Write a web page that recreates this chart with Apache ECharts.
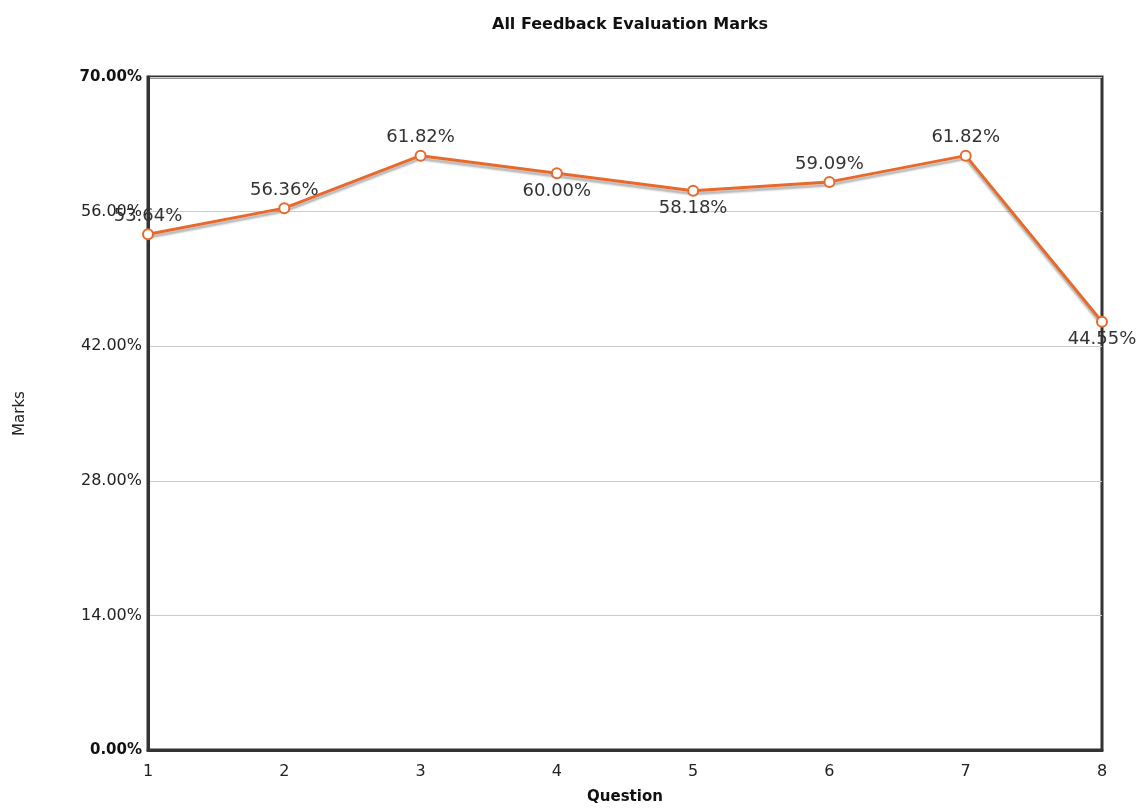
<!DOCTYPE html>
<html>
<head>
<meta charset="utf-8">
<script src="https://cdn.jsdelivr.net/npm/echarts@6/dist/echarts.min.js"></script>
<style>
html,body{margin:0;padding:0;background:#fff;}
#chart{width:1146px;height:810px;}
</style>
</head>
<body>
<div id="chart"></div>
<script>
const titleText = "All Feedback Evaluation Marks";
const categories = ["1","2","3","4","5","6","7","8"];
const marks = [53.64, 56.36, 61.82, 60.00, 58.18, 59.09, 61.82, 44.55];
const labelPositions = ["top","top","top","bottom","bottom","top","top","bottom"];
const yMin = 0, yMax = 70, yInterval = 14;
const xName = "Question", yName = "Marks";

const FONT = "DejaVu Sans, Verdana, sans-serif";
const chart = echarts.init(document.getElementById('chart'));
chart.setOption({
  animation: false,
  backgroundColor: '#fff',
  title: {
    text: titleText, left: 625, top: 12, textAlign: 'center',
    textStyle: {fontFamily: FONT, fontSize: 16, fontWeight: 'bold', color: '#111'}
  },
  grid: {left: 148, right: 44, top: 77, bottom: 60, show: true,
         borderColor: '#333', borderWidth: 3, backgroundColor: 'transparent'},
  xAxis: {
    type: 'category', data: categories, boundaryGap: false,
    name: xName, nameLocation: 'middle', nameGap: 40,
    nameTextStyle: {fontFamily: FONT, fontSize: 15, fontWeight: 'bold', color: '#111'},
    axisLine: {show: true, lineStyle: {color: '#333', width: 3}},
    axisTick: {show: false},
    axisLabel: {fontFamily: FONT, fontSize: 16, color: '#222', margin: 14},
    splitLine: {show: false}
  },
  yAxis: {
    type: 'value', min: yMin, max: yMax, interval: yInterval,
    name: yName, nameLocation: 'middle', nameGap: 120, nameRotate: 90,
    nameTextStyle: {fontFamily: FONT, fontSize: 15, color: '#222'},
    axisLine: {show: true, lineStyle: {color: '#333', width: 3}},
    axisTick: {show: false},
    axisLabel: {
      fontFamily: FONT, fontSize: 16, color: '#222', margin: 6,
      formatter: function (v) {
        const s = v.toFixed(2) + '%';
        return (v === yMin || v === yMax) ? '{b|' + s + '}' : s;
      },
      rich: {b: {fontFamily: FONT, fontSize: 15, fontWeight: 'bold', color: '#111'}}
    },
    splitLine: {show: true, lineStyle: {color: '#ccc', width: 1}}
  },
  series: [{
    type: 'line',
    data: marks.map((v, i) => ({
      value: v,
      label: {position: labelPositions[i]}
    })),
    symbol: 'circle', symbolSize: 10,
    itemStyle: {color: '#fff', borderColor: '#e8692a', borderWidth: 2},
    lineStyle: {color: '#e8692a', width: 3, shadowColor: 'rgba(0,0,0,0.3)', shadowOffsetY: 3, shadowBlur: 2},
    label: {
      show: true, fontFamily: FONT, fontSize: 18, color: '#333', distance: 3,
      formatter: p => p.value.toFixed(2) + '%'
    },
    z: 5
  }]
});
</script>
</body>
</html>
